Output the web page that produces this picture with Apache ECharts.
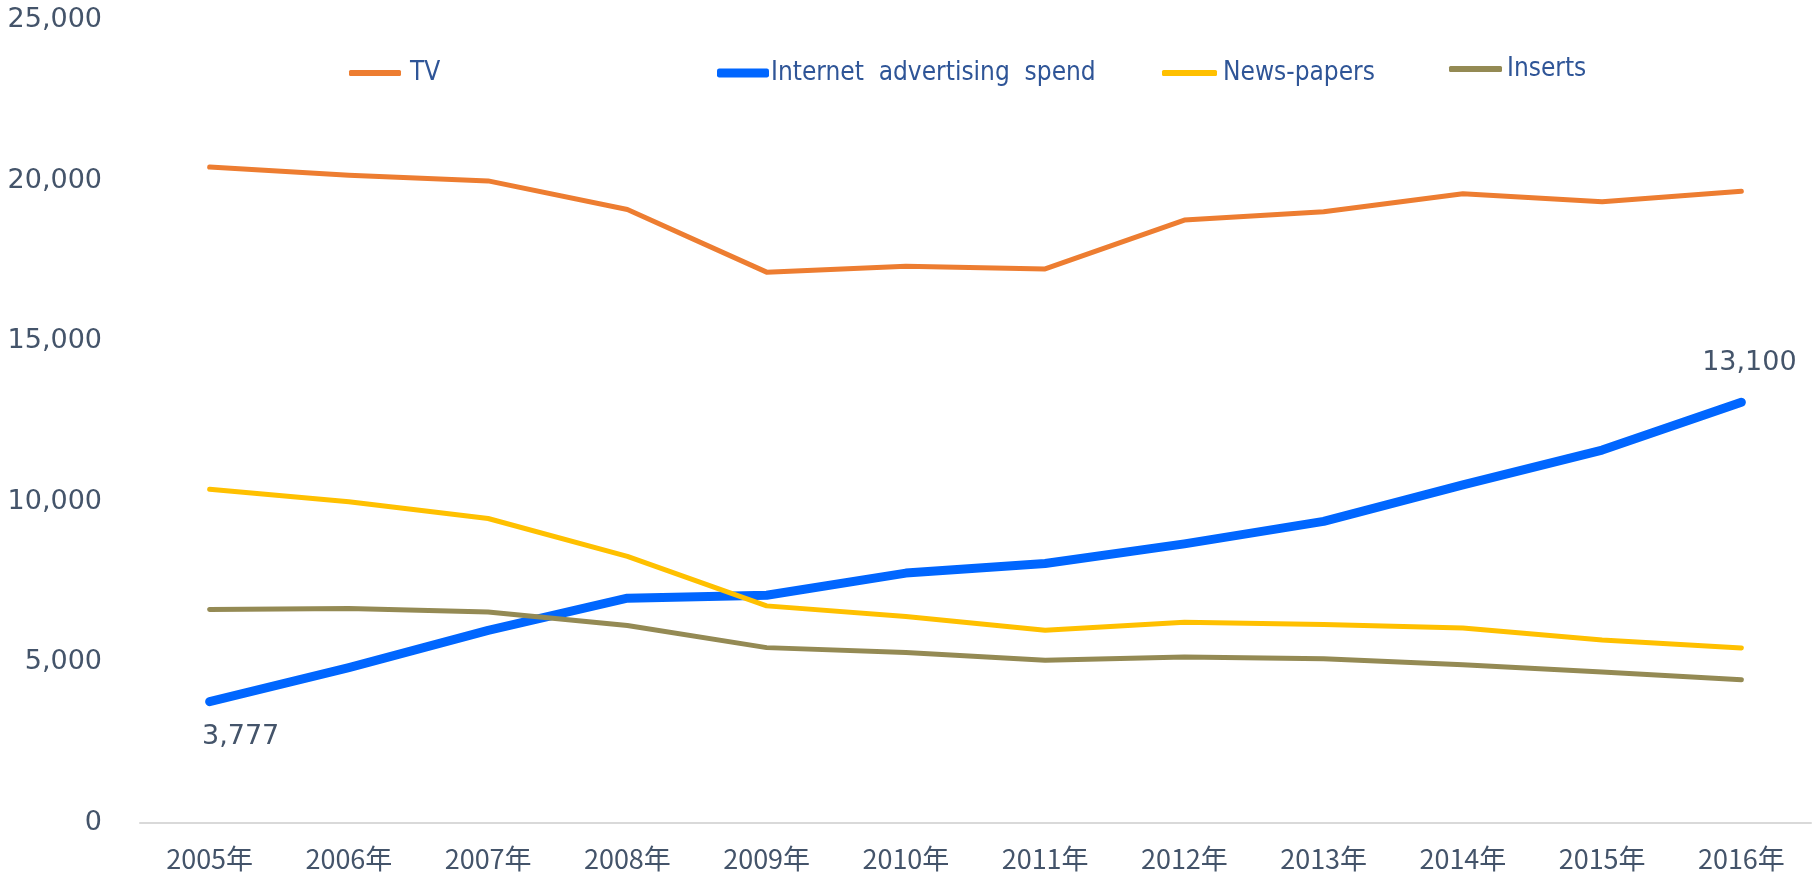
<!DOCTYPE html>
<html>
<head>
<meta charset="utf-8">
<script src="https://cdn.jsdelivr.net/npm/echarts@6/dist/echarts.min.js"></script>
<style>
  html, body { margin: 0; padding: 0; background: #ffffff; }
  #chart { width: 1815px; height: 879px; }
</style>
</head>
<body>
<div id="chart"></div>
<script>
// Advertising spend by medium, 2005–2016
const years = ['2005年','2006年','2007年','2008年','2009年','2010年','2011年','2012年','2013年','2014年','2015年','2016年'];
const tv         = [20420, 20170, 19990, 19100, 17150, 17330, 17250, 18770, 19030, 19590, 19340, 19670];
const internet   = [3777, 4840, 6000, 7000, 7090, 7780, 8080, 8690, 9390, 10530, 11610, 13100];
const newspapers = [10390, 10000, 9480, 8300, 6760, 6430, 6000, 6250, 6180, 6070, 5700, 5450];
const inserts    = [6650, 6680, 6570, 6150, 5460, 5310, 5070, 5170, 5110, 4930, 4700, 4460];
const seriesNames = ['TV', 'Internet  advertising  spend', 'News-papers', 'Inserts'];
const seriesColors = ['#ED7D31', '#0066FF', '#FFC000', '#948A54'];
const yTicks = [0, 5000, 10000, 15000, 20000, 25000];

const labelColor = '#44546A';
const legendTextColor = '#2F5597';
const fmt = v => Number(v).toLocaleString('en-US');

const chart = echarts.init(document.getElementById('chart'), null, { renderer: 'canvas' });

// Only the first and last internet points carry a value label
const internetData = internet.map((v, i) => {
  if (i === 0) {
    return { value: v, label: { show: true, position: 'bottom', distance: 22, offset: [31, 0] } };
  }
  if (i === internet.length - 1) {
    return { value: v, label: { show: true, position: 'top', distance: 26, offset: [8, 0] } };
  }
  return { value: v, label: { show: false } };
});

function legendFor(name, left, top, iconW, iconH, textPad) {
  return {
    data: [{ name: name, icon: 'roundRect' }],
    left: left,
    top: top,
    itemWidth: iconW,
    itemHeight: iconH,
    itemGap: 0,
    padding: 0,
    textStyle: {
      color: legendTextColor,
      fontFamily: 'DejaVu Sans Condensed, DejaVu Sans',
      fontSize: 26,
      padding: [0, 0, 0, textPad]
    }
  };
}

function lineSeries(idx, data, width, extra) {
  return Object.assign({
    name: seriesNames[idx],
    type: 'line',
    data: data,
    showSymbol: false,
    symbol: 'none',
    itemStyle: { color: seriesColors[idx] },
    lineStyle: { width: width, color: seriesColors[idx], cap: 'round', join: 'round' }
  }, extra || {});
}

chart.setOption({
  animation: false,
  backgroundColor: '#ffffff',
  color: seriesColors,
  legend: [
    legendFor(seriesNames[0], 349, 60, 52, 6, 4),
    legendFor(seriesNames[1], 717, 60, 52, 9, -3),
    legendFor(seriesNames[2], 1162, 60, 55, 6, 1),
    legendFor(seriesNames[3], 1449, 56, 53, 6, 0)
  ],
  grid: { left: 140, right: 4, top: 20, bottom: 56, containLabel: false },
  xAxis: {
    type: 'category',
    data: years,
    boundaryGap: true,
    axisLine: { show: true, lineStyle: { color: '#D9D9D9', width: 2 } },
    axisTick: { show: false },
    axisLabel: {
      color: labelColor,
      fontFamily: 'Noto Sans CJK JP',
      fontSize: 27,
      margin: 22
    },
    splitLine: { show: false }
  },
  yAxis: {
    type: 'value',
    min: yTicks[0],
    max: yTicks[yTicks.length - 1],
    interval: yTicks[1] - yTicks[0],
    axisLine: { show: false },
    axisTick: { show: false },
    splitLine: { show: false },
    axisLabel: {
      color: labelColor,
      fontFamily: 'DejaVu Sans',
      fontSize: 27,
      margin: 38,
      formatter: fmt
    }
  },
  series: [
    lineSeries(0, tv, 5),
    lineSeries(1, internetData, 9, {
      showSymbol: true,
      symbol: 'circle',
      symbolSize: 0,
      label: {
        color: labelColor,
        fontFamily: 'DejaVu Sans',
        fontSize: 27,
        formatter: p => fmt(p.value)
      }
    }),
    lineSeries(2, newspapers, 5),
    lineSeries(3, inserts, 5)
  ]
});
</script>
</body>
</html>
